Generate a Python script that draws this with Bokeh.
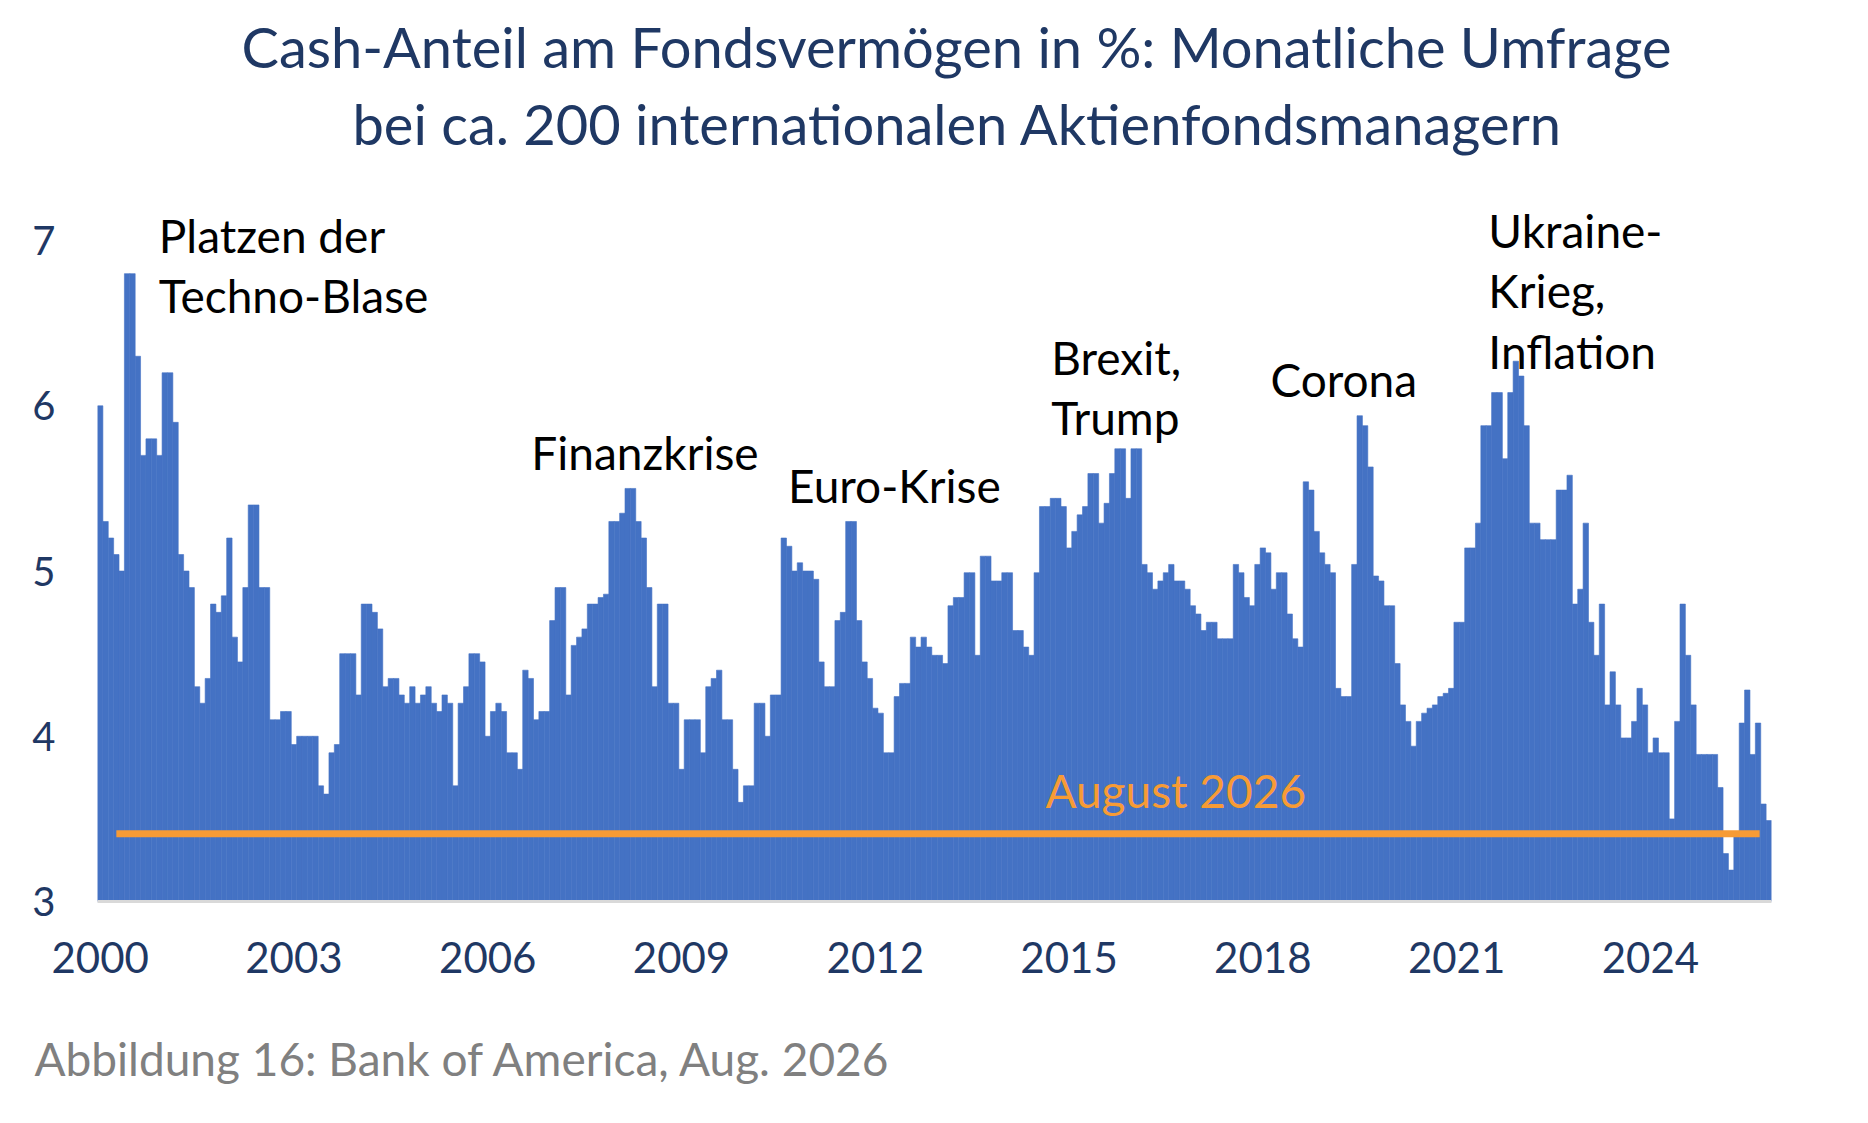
from bokeh.plotting import figure
from bokeh.models import Range1d, FixedTicker, Label, Title, ColumnDataSource
from bokeh.embed import file_html
from bokeh.resources import INLINE

# Monthly cash share (%) of fund assets, BofA Fund Manager Survey
cash = [
    6.0, 5.3, 5.2, 5.1, 5.0, 6.8, 6.8, 6.3, 5.7, 5.8,
    5.8, 5.7, 6.2, 6.2, 5.9, 5.1, 5.0, 4.9, 4.3, 4.2,
    4.35, 4.8, 4.75, 4.85, 5.2, 4.6, 4.45, 4.9, 5.4, 5.4,
    4.9, 4.9, 4.1, 4.1, 4.15, 4.15, 3.95, 4.0, 4.0, 4.0,
    4.0, 3.7, 3.65, 3.9, 3.95, 4.5, 4.5, 4.5, 4.25, 4.8,
    4.8, 4.75, 4.65, 4.3, 4.35, 4.35, 4.25, 4.2, 4.3, 4.2,
    4.25, 4.3, 4.2, 4.15, 4.25, 4.2, 3.7, 4.2, 4.3, 4.5,
    4.5, 4.45, 4.0, 4.15, 4.2, 4.15, 3.9, 3.9, 3.8, 4.4,
    4.35, 4.1, 4.15, 4.15, 4.7, 4.9, 4.9, 4.25, 4.55, 4.6,
    4.65, 4.8, 4.8, 4.84, 4.86, 5.3, 5.3, 5.35, 5.5, 5.5,
    5.3, 5.2, 4.9, 4.3, 4.8, 4.8, 4.2, 4.2, 3.8, 4.1,
    4.1, 4.1, 3.9, 4.3, 4.35, 4.4, 4.1, 4.1, 3.8, 3.6,
    3.7, 3.7, 4.2, 4.2, 4.0, 4.25, 4.25, 5.2, 5.15, 5.0,
    5.05, 5.0, 5.0, 4.95, 4.45, 4.3, 4.3, 4.7, 4.75, 5.3,
    5.3, 4.7, 4.45, 4.35, 4.17, 4.14, 3.9, 3.9, 4.24, 4.32,
    4.32, 4.6, 4.54, 4.6, 4.54, 4.49, 4.49, 4.44, 4.79, 4.84,
    4.84, 4.99, 4.99, 4.49, 5.09, 5.09, 4.94, 4.94, 4.99, 4.99,
    4.64, 4.64, 4.54, 4.49, 4.99, 5.39, 5.39, 5.44, 5.44, 5.39,
    5.14, 5.24, 5.34, 5.39, 5.59, 5.59, 5.29, 5.41, 5.59, 5.74,
    5.74, 5.44, 5.74, 5.74, 5.04, 4.99, 4.89, 4.94, 4.99, 5.04,
    4.94, 4.94, 4.89, 4.79, 4.74, 4.64, 4.69, 4.69, 4.59, 4.59,
    4.59, 5.04, 4.99, 4.84, 4.79, 5.04, 5.14, 5.11, 4.89, 4.99,
    4.99, 4.74, 4.59, 4.54, 5.54, 5.49, 5.24, 5.11, 5.04, 4.99,
    4.29, 4.24, 4.24, 5.04, 5.94, 5.88, 5.63, 4.97, 4.94, 4.79,
    4.79, 4.44, 4.19, 4.09, 3.94, 4.09, 4.14, 4.17, 4.19, 4.24,
    4.26, 4.29, 4.69, 4.69, 5.14, 5.14, 5.29, 5.88, 5.88, 6.08,
    6.08, 5.68, 6.08, 6.27, 6.18, 5.88, 5.29, 5.29, 5.19, 5.19,
    5.19, 5.49, 5.49, 5.58, 4.8, 4.89, 5.29, 4.69, 4.49, 4.8,
    4.19, 4.39, 4.19, 3.99, 3.99, 4.09, 4.29, 4.19, 3.9, 3.99,
    3.9, 3.9, 3.5, 4.09, 4.8, 4.49, 4.19, 3.89, 3.89, 3.89,
    3.89, 3.69, 3.29, 3.19, 3.42, 4.08, 4.28, 3.89, 4.08, 3.59,
    3.49,
]
year_labels = ["2000", "2003", "2006", "2009", "2012", "2015", "2018", "2021", "2024"]
months_per_label = 36
y_ticks = [3, 4, 5, 6, 7]
aug_2026_level = 3.41
level_months = [3.0, 308.3]

annotations = [
    ("Platzen der", 10.9, 7.03),
    ("Techno-Blase", 10.9, 6.67),
    ("Finanzkrise", 80.1, 5.72),
    ("Euro-Krise", 127.8, 5.52),
    ("Brexit,", 176.7, 6.29),
    ("Trump", 176.7, 5.93),
    ("Corona", 217.4, 6.16),
    ("Ukraine-", 257.9, 7.06),
    ("Krieg,", 257.9, 6.70),
    ("Inflation", 257.9, 6.33),
]

FONT = "Lato"
NAVY = "#1F3864"
BLUE = "#4472C4"
ORANGE = "#F79B35"

n = len(cash)
src = ColumnDataSource(dict(month=list(range(n)), cash=cash))

p = figure(width=1852, height=1107, output_backend="svg", toolbar_location=None,
           title=None, x_range=Range1d(-0.5, n - 0.5), y_range=Range1d(3, 7.4),
           min_border_left=97, min_border_right=81, min_border_top=174,
           min_border_bottom=206, outline_line_color=None)

p.vbar(x="month", top="cash", bottom=3, width=1.0, source=src,
       fill_color=BLUE, line_color=BLUE, line_width=0.6)
p.line(x=level_months, y=[aug_2026_level, aug_2026_level],
       line_color=ORANGE, line_width=7)

p.xgrid.visible = False
p.ygrid.visible = False

xa = p.xaxis[0]
xa.ticker = FixedTicker(ticks=[i * months_per_label for i in range(len(year_labels))])
xa.major_label_overrides = {i * months_per_label: y for i, y in enumerate(year_labels)}
xa.major_tick_line_color = None
xa.minor_tick_line_color = None
xa.axis_line_color = "#D9D9D9"
xa.axis_line_width = 3
xa.major_label_text_font = FONT
xa.major_label_text_font_size = "42px"
xa.major_label_text_color = NAVY
xa.major_label_standoff = 34

ya = p.yaxis[0]
ya.ticker = FixedTicker(ticks=y_ticks)
ya.axis_line_color = None
ya.major_tick_line_color = None
ya.minor_tick_line_color = None
ya.major_label_text_font = FONT
ya.major_label_text_font_size = "40px"
ya.major_label_text_color = NAVY
ya.major_label_standoff = 36

for txt, x, y in annotations:
    p.add_layout(Label(x=x, y=y, text=txt, text_font=FONT, text_font_size="46px",
                       text_color="black", text_baseline="alphabetic", text_align="left"))
p.add_layout(Label(x=175.6, y=3.67, text="August 2026", text_font=FONT,
                   text_font_size="46px", text_color=ORANGE,
                   text_baseline="alphabetic", text_align="left"))

t2 = Title(text="bei ca. 200 internationalen Aktienfondsmanagern", align="left", offset=255,
           standoff=36, text_font=FONT, text_font_size="56px", text_color=NAVY,
           text_font_style="normal")
p.add_layout(t2, "above")
t1 = Title(text="Cash-Anteil am Fondsvermögen in %: Monatliche Umfrage", align="left", offset=144,
           standoff=-21, text_font=FONT, text_font_size="56px", text_color=NAVY,
           text_font_style="normal")
p.add_layout(t1, "above")

# empty spacer panel between the axis labels and the source note
spacer = Title(text=" ", text_font_size="10px", standoff=40, text_font_style="normal")
p.add_layout(spacer, "below")
foot = Title(text="Abbildung 16: Bank of America, Aug. 2026", align="left", offset=-63,
             standoff=0, text_font=FONT, text_font_size="46px", text_color="#808080",
             text_font_style="normal")
p.add_layout(foot, "below")

open("out.html", "w").write(file_html(p, INLINE))
